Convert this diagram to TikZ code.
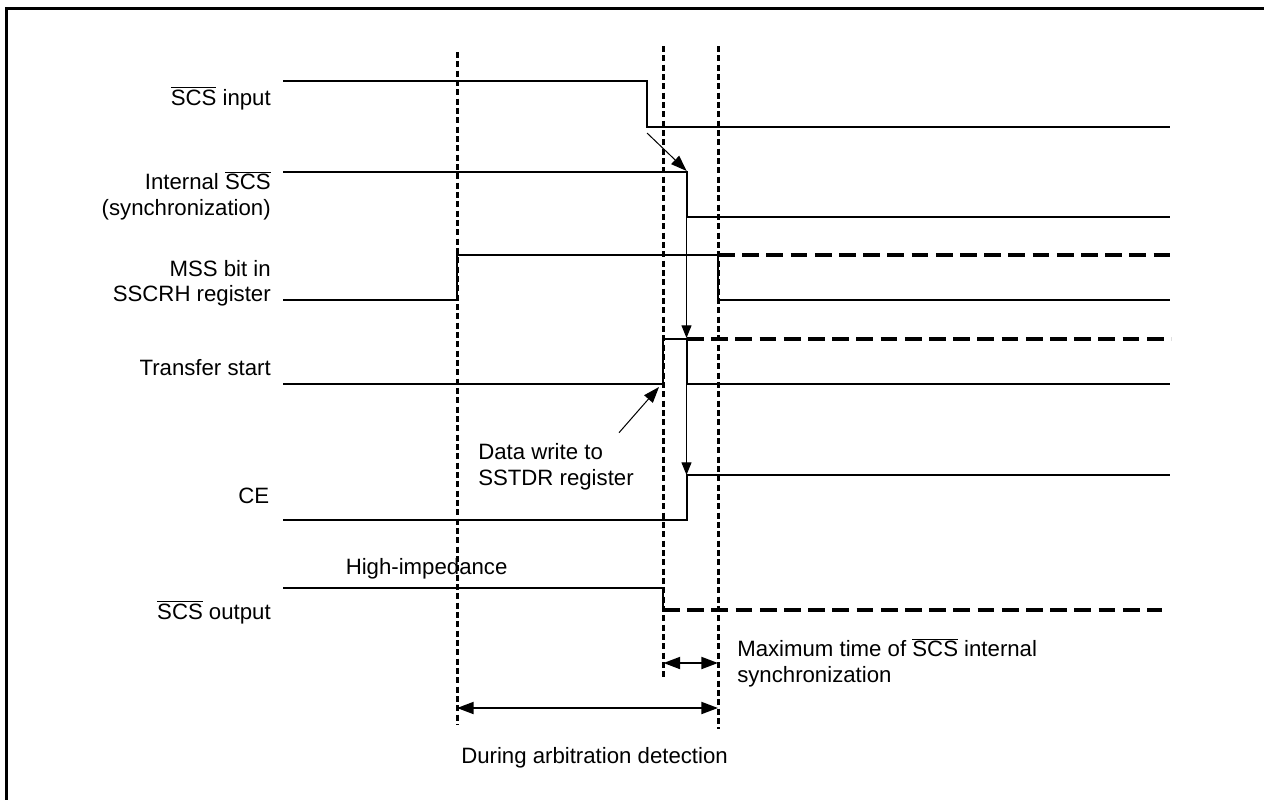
\documentclass[tikz,border=0pt]{standalone}
\usepackage{fontspec}
\setmainfont{Liberation Sans}
\usetikzlibrary{arrows.meta}
\newcommand{\ovl}[1]{\ensuremath{\overline{\mbox{#1}}}}
\tikzset{
  x=0.75pt,y=-0.75pt,
  border/.style={line width=2.25pt},
  sig/.style={line width=1.7pt,line join=miter},
  sigdash/.style={line width=2.3pt,dash pattern=on 12.6pt off 5.55pt},
  guide/.style={line width=2.25pt,dash pattern=on 4.4pt off 2.6pt},
  thin arrow/.style={line width=0.75pt,-{Triangle[length=9.5pt,width=7.5pt]}},
  diag arrow/.style={line width=0.75pt,-{Triangle[length=12pt,width=8.5pt]}},
  dim arrow/.style={line width=1.5pt,{Triangle[length=12.5pt,width=9pt]}-{Triangle[length=12.5pt,width=9pt]}},
  lbl/.style={font=\fontsize{16.65pt}{19pt}\selectfont,inner sep=0pt},
  lblr/.style={lbl,anchor=base east,align=right},
  lbll/.style={lbl,anchor=base west,align=left},
}
\begin{document}
\begin{tikzpicture}
\useasboundingbox (0,0) rectangle (1264,800);
\coordinate (ftr) at (1264,8.5); \coordinate (ftl) at (6.5,8.5); \coordinate (fbl) at (6.5,800);
\draw[border,line cap=butt] (ftr)--(ftl)--(fbl);
% guides
\coordinate (g1t) at (457,52); \coordinate (g1b) at (457,725);
\coordinate (g2t) at (663,46); \coordinate (g2b) at (663,678);
\coordinate (g3t) at (718,46); \coordinate (g3b) at (718,729);
\draw[guide] (g1t)--(g1b);
\draw[guide] (g2t)--(g2b);
\draw[guide] (g3t)--(g3b);
% signals
\coordinate (a0) at (283,81); \coordinate (a1) at (647,81); \coordinate (a2) at (647,127); \coordinate (a3) at (1170,127);
\draw[sig] (a0)--(a1)--(a2)--(a3);
\coordinate (b0) at (283,172); \coordinate (b1) at (687,172); \coordinate (b2) at (687,217); \coordinate (b3) at (1170,217);
\draw[sig] (b0)--(b1)--(b2)--(b3);
\coordinate (c0) at (283,300); \coordinate (c1) at (457,300); \coordinate (c2) at (457,255); \coordinate (c3) at (718,255); \coordinate (c4) at (1170,255); \coordinate (c5) at (718,300); \coordinate (c6) at (1170,300);
\draw[sig] (c0)--(c1)--(c2)--(c3);
\draw[sigdash] (c3)--(c4);
\draw[sig] (c3)--(c5)--(c6);
\coordinate (d0) at (283,384); \coordinate (d1) at (663,384); \coordinate (d2) at (663,339); \coordinate (d3) at (687,339); \coordinate (d4) at (1171,339); \coordinate (d5) at (687,384); \coordinate (d6) at (1170,384);
\draw[sig] (d0)--(d1)--(d2)--(d3);
\draw[sigdash] (d3)--(d4);
\draw[sig] (d3)--(d5)--(d6);
\coordinate (e0) at (283,520); \coordinate (e1) at (687,520); \coordinate (e2) at (687,475); \coordinate (e3) at (1170,475);
\draw[sig] (e0)--(e1)--(e2)--(e3);
\coordinate (f0) at (283,588); \coordinate (f1) at (663,588); \coordinate (f2) at (663,610); \coordinate (f3) at (1162,610);
\draw[sig] (f0)--(f1)--(f2);
\draw[sigdash] (f2)--(f3);
% arrows
\coordinate (p0) at (647,133); \coordinate (p1) at (686.7,171);
\draw[diag arrow] (p0)--(p1);
\coordinate (v0) at (686.5,217); \coordinate (v1) at (686.5,338); \coordinate (v2) at (686.5,384); \coordinate (v3) at (686.5,475);
\draw[thin arrow] (v0)--(v1);
\draw[thin arrow] (v2)--(v3);
\coordinate (q0) at (619,432.7); \coordinate (q1) at (659,387);
\draw[diag arrow] (q0)--(q1);
\coordinate (r0) at (663.5,663); \coordinate (r1) at (718,663);
\draw[dim arrow] (r0)--(r1);
\coordinate (s0) at (457,708); \coordinate (s1) at (718,708);
\draw[dim arrow] (s0)--(s1);
% labels
\node[lblr] (l1) at (271,105) {\ovl{SCS} input};
\node[lblr] (l2) at (271,215) {Internal \ovl{SCS}\\(synchronization)};
\node[lblr] (l3) at (271,301.7) {MSS bit in\\SSCRH register};
\node[lblr] (l4) at (271,375) {Transfer start};
\node[lblr] (l5) at (269.5,503) {CE};
\node[lbll] (l6) at (345.5,574) {High-impedance};
\node[lblr] (l7) at (271,619) {\ovl{SCS} output};
\node[lbll] (l8) at (478,485) {Data write to\\SSTDR register};
\node[lbll] (l9) at (737,682) {Maximum time of \ovl{SCS} internal\\synchronization};
\node[lbll] (l10) at (461,763) {During arbitration detection};
\end{tikzpicture}
\end{document}
